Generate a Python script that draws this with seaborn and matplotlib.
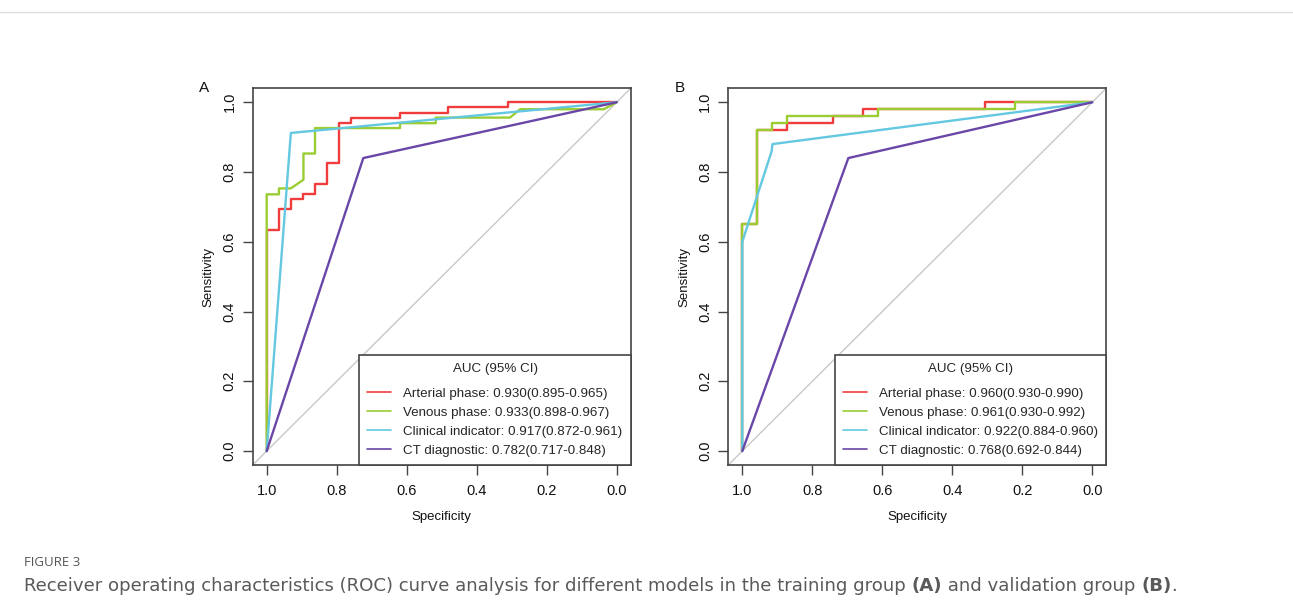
import numpy as np
import pandas as pd
import matplotlib
matplotlib.use("Agg")
import matplotlib.pyplot as plt
from matplotlib.lines import Line2D
import seaborn as sns

# ---------------- data ----------------
series_names = ["Arterial phase", "Venous phase", "Clinical indicator", "CT diagnostic"]
colors = ["#F03C3C", "#9ACD32", "#63C8E0", "#6A46A8"]

# Panel A (training group)
a_art_spec = [1, 1, 0.965, 0.965, 0.931, 0.931, 0.895, 0.895, 0.862, 0.862, 0.827, 0.827, 0.793, 0.793,
              0.759, 0.759, 0.619, 0.619, 0.481, 0.481, 0.310, 0.310, 0]
a_art_sens = [0, 0.635, 0.635, 0.693, 0.693, 0.724, 0.724, 0.736, 0.736, 0.767, 0.767, 0.826, 0.826, 0.940,
              0.940, 0.955, 0.955, 0.970, 0.970, 0.986, 0.986, 1.0, 1.0]
a_ven_spec = [1, 1, 0.965, 0.965, 0.931, 0.895, 0.895, 0.862, 0.862, 0.619, 0.619, 0.517, 0.517,
              0.305, 0.276, 0.037, 0]
a_ven_sens = [0, 0.736, 0.736, 0.753, 0.753, 0.778, 0.853, 0.853, 0.926, 0.926, 0.940, 0.940, 0.956,
              0.956, 0.980, 0.980, 1.0]
a_cli_spec = [1, 0.931, 0]
a_cli_sens = [0, 0.912, 1.0]
a_ct_spec = [1, 0.724, 0]
a_ct_sens = [0, 0.840, 1.0]
a_auc = ["0.930(0.895-0.965)", "0.933(0.898-0.967)", "0.917(0.872-0.961)", "0.782(0.717-0.848)"]

# Panel B (validation group)
b_art_spec = [1, 1, 0.959, 0.959, 0.871, 0.871, 0.740, 0.740, 0.656, 0.656, 0.308, 0.308, 0]
b_art_sens = [0, 0.65, 0.65, 0.921, 0.921, 0.940, 0.940, 0.961, 0.961, 0.980, 0.980, 1.0, 1.0]
b_ven_spec = [1, 1, 0.959, 0.959, 0.914, 0.914, 0.871, 0.871, 0.611, 0.611, 0.221, 0.221, 0]
b_ven_sens = [0, 0.65, 0.65, 0.921, 0.921, 0.940, 0.940, 0.961, 0.961, 0.980, 0.980, 1.0, 1.0]
b_cli_spec = [1, 1, 0.916, 0.914, 0]
b_cli_sens = [0, 0.60, 0.860, 0.880, 1.0]
b_ct_spec = [1, 0.697, 0]
b_ct_sens = [0, 0.840, 1.0]
b_auc = ["0.960(0.930-0.990)", "0.961(0.930-0.992)", "0.922(0.884-0.960)", "0.768(0.692-0.844)"]

ticks = [0.0, 0.2, 0.4, 0.6, 0.8, 1.0]
tick_labels = ["0.0", "0.2", "0.4", "0.6", "0.8", "1.0"]

panels = [
    ("A", [(a_art_spec, a_art_sens), (a_ven_spec, a_ven_sens), (a_cli_spec, a_cli_sens), (a_ct_spec, a_ct_sens)], a_auc),
    ("B", [(b_art_spec, b_art_sens), (b_ven_spec, b_ven_sens), (b_cli_spec, b_cli_sens), (b_ct_spec, b_ct_sens)], b_auc),
]

# ---------------- style ----------------
sns.set_style("white")
plt.rcParams["font.family"] = ["Liberation Sans", "DejaVu Sans"]

W, H = 1293, 604
fig = plt.figure(figsize=(W / 100, H / 100), dpi=100)
fig.patch.set_facecolor("white")

axes_px = [(252.7, 88.3, 630.7, 465.0), (728.3, 88.3, 1106.3, 465.0)]
axis_col = "#444444"
leg_fs = 9.6

for (label, curves, aucs), (x0, y0, x1, y1) in zip(panels, axes_px):
    ax = fig.add_axes([x0 / W, 1 - y1 / H, (x1 - x0) / W, (y1 - y0) / H])
    ax.axline((1, 0), (0, 1), color="#C8C8C8", lw=1.0, zorder=1)
    for i, ((sp, se), name, col, auc) in enumerate(zip(curves, series_names, colors, aucs)):
        df = pd.DataFrame({"Specificity": sp, "Sensitivity": se})
        sns.lineplot(data=df, x="Specificity", y="Sensitivity", sort=False, estimator=None,
                     color=col, lw=1.7, ax=ax, label=f"{name}: {auc}", zorder=3 + i)
    ax.set_xlim(1.04, -0.04)
    ax.set_ylim(-0.04, 1.04)
    ax.set_xticks(ticks)
    ax.set_xticklabels(tick_labels)
    ax.set_yticks(ticks)
    ax.set_yticklabels(tick_labels, rotation=90, va="center")
    ax.tick_params(axis="both", direction="out", length=7, width=1.0, color=axis_col,
                   labelsize=10.5, labelcolor="#111111", bottom=True, left=True)
    ax.tick_params(axis="x", pad=7)
    ax.tick_params(axis="y", pad=4.5)
    for s in ax.spines.values():
        s.set_color(axis_col)
        s.set_linewidth(1.2)
    ax.set_xlabel("Specificity", fontsize=9.5, color="#111111", labelpad=9)
    ax.set_ylabel("Sensitivity", fontsize=9.5, color="#111111", labelpad=6)
    leg = ax.legend(loc="lower right", title="AUC (95% CI)", fontsize=leg_fs, title_fontsize=leg_fs,
                    frameon=True, fancybox=False, borderaxespad=0, handlelength=1.8,
                    handletextpad=0.9, labelspacing=0.5, borderpad=0.6, framealpha=1)
    # a little extra room between the legend title and its entries
    leg._legend_box.sep = 0.5 * leg_fs + 4.3
    leg.get_frame().set_edgecolor(axis_col)
    leg.get_frame().set_linewidth(1.2)
    for ln in leg.get_lines():
        ln.set_linewidth(1.2)
    fig.text((x0 - 54) / W, 1 - 88 / H, label, fontsize=11, color="#111111", ha="left", va="center")

# page decoration
fig.add_artist(Line2D([0, 1], [1 - 12 / H, 1 - 12 / H], color="#DDDDDD", lw=1.0))

fig.text(24 / W, 1 - 562 / H, "FIGURE 3", fontsize=9.5, color="#555555",
         family=["Open Sans", "DejaVu Sans"], va="center", ha="left")

parts = [("Receiver operating characteristics (ROC) curve analysis for different models in the training group ", "normal"),
         ("(A)", "bold"), (" and validation group ", "normal"), ("(B)", "bold"), (".", "normal")]
fig.canvas.draw()
renderer = fig.canvas.get_renderer()

cap_family = ["DejaVu Sans"]
# fit caption to the reference's width (about 1160 px)
base = 10.0
total = 0.0
for txt, wt in parts:
    t = fig.text(0, 0, txt, fontsize=base, weight=wt, family=cap_family)
    total += t.get_window_extent(renderer=renderer).width
    t.remove()
cap_size = base * 1160.0 / total

xpos = 24
for txt, wt in parts:
    t = fig.text(xpos / W, 1 - 586 / H, txt, fontsize=cap_size, color="#5a5a5a", weight=wt,
                 family=cap_family, va="center", ha="left")
    bb = t.get_window_extent(renderer=renderer)
    xpos += bb.width

fig.savefig("out.png", dpi=100, facecolor="white")
